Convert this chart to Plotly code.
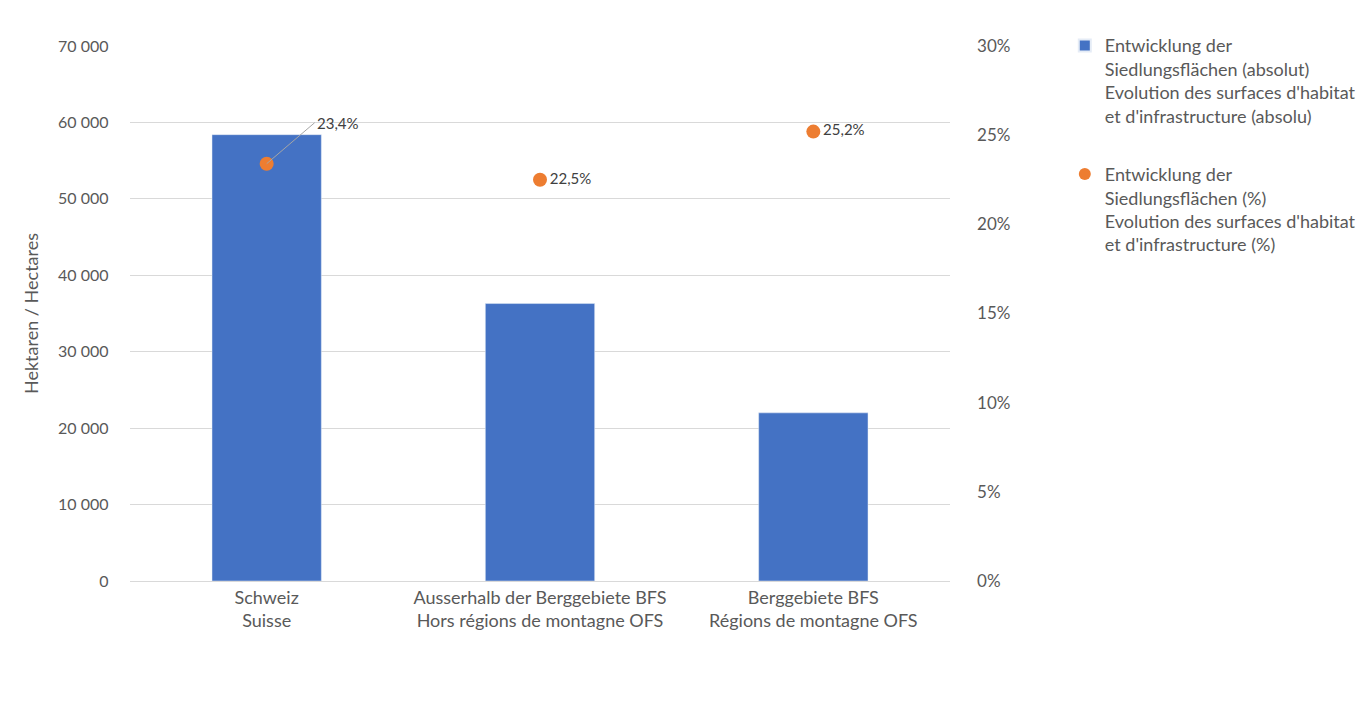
import plotly.graph_objects as go

categories = ["Schweiz<br>Suisse",
              "Ausserhalb der Berggebiete BFS<br>Hors régions de montagne OFS",
              "Berggebiete BFS<br>Régions de montagne OFS"]
absolute_ha = [58400, 36300, 22000]
percent = [0.234, 0.225, 0.252]
name_abs = "Entwicklung der<br>Siedlungsflächen (absolut)<br>Evolution des surfaces d'habitat<br>et d'infrastructure (absolu)"
name_pct = "Entwicklung der<br>Siedlungsflächen (%)<br>Evolution des surfaces d'habitat<br>et d'infrastructure (%)"

FONT = "Lato"
TXT = "#595959"


def fmt_pct(v):
    return f"{v*100:.1f}%".replace(".", ",")


fig = go.Figure()
fig.add_trace(go.Bar(x=categories, y=absolute_ha, name=name_abs, legendgroup="a",
                     marker=dict(color="#4472C4"), width=0.4, yaxis="y"))
fig.add_trace(go.Scatter(x=categories, y=percent, name=name_pct, yaxis="y2", legendgroup="b",
                         mode="markers+text",
                         marker=dict(color="#ED7D31", size=14),
                         text=["" if i == 0 else fmt_pct(v) for i, v in enumerate(percent)],
                         textposition="middle right",
                         textfont=dict(family=FONT, size=15, color="#404040")))

fig.add_annotation(x=categories[0], y=percent[0], xref="x", yref="y2",
                   text=fmt_pct(percent[0]),
                   showarrow=True, arrowhead=0, arrowwidth=1, arrowcolor="#a6a6a6",
                   ax=48, ay=-41, xanchor="left",
                   font=dict(family=FONT, size=15, color="#404040"))

fig.update_layout(
    width=1365, height=726,
    paper_bgcolor="white", plot_bgcolor="white",
    separators=", ",
    margin=dict(l=122, r=421, t=38, b=153),
    font=dict(family=FONT, size=16, color=TXT),
    xaxis=dict(showgrid=False, showline=True, linecolor="#d9d9d9", ticks="",
               tickfont=dict(size=18, color=TXT)),
    yaxis=dict(range=[0, 70000], dtick=10000, tickformat=",d",
               gridcolor="#d9d9d9", zeroline=False, ticks="", ticksuffix="     ",
               tickfont=dict(size=16, color=TXT),
               title=dict(text="Hektaren / Hectares", font=dict(size=18, color=TXT), standoff=14)),
    yaxis2=dict(range=[0, 0.30], dtick=0.05, tickformat=".0%", overlaying="y", side="right",
                showgrid=False, zeroline=False, ticks="", tickprefix="      ",
                tickfont=dict(size=17, color=TXT)),
    legend=dict(x=1.140, y=1.035, xanchor="left", yanchor="top", valign="top",
                font=dict(size=18, color=TXT), itemsizing="constant",
                tracegroupgap=32, itemwidth=30),
    showlegend=True,
)

fig.write_html("out.html")
